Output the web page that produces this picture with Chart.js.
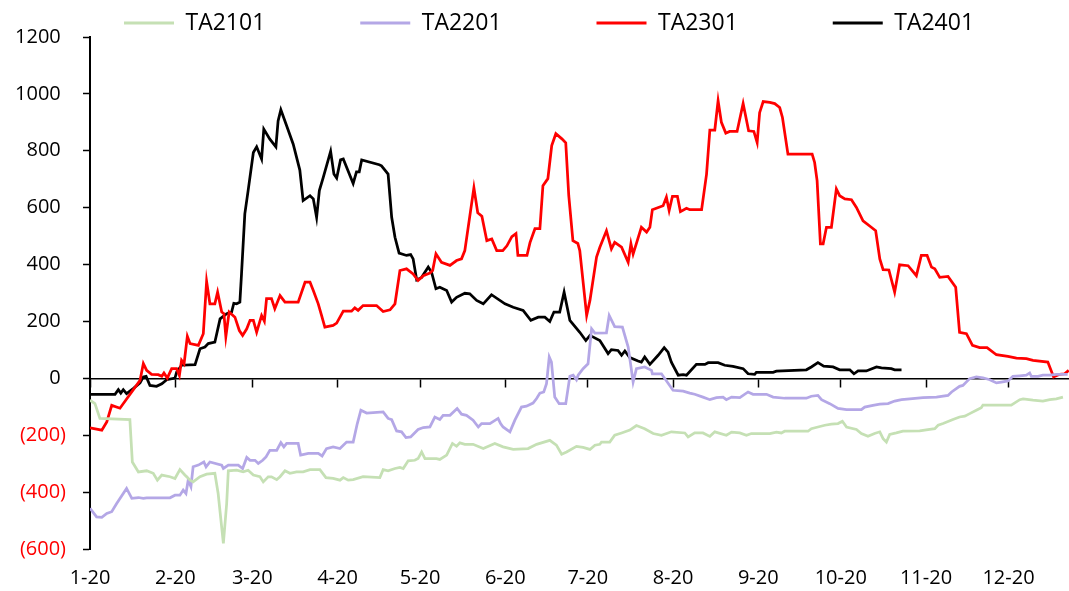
<!DOCTYPE html>
<html>
<head>
<meta charset="utf-8">
<script src="https://cdn.jsdelivr.net/npm/chart.js@4.4.1/dist/chart.umd.min.js"></script>
<style>
html,body{margin:0;padding:0;background:#fff;}
#wrap{width:1069px;height:591px;position:relative;}
</style>
</head>
<body>
<div id="wrap"><canvas id="c" width="1069" height="591"></canvas></div>
<script>
// x values are days counted from Jan 20
const tickDays = [0, 31, 59, 90, 120, 151, 181, 212, 243, 273, 304, 334];
const tickLabels = ['1-20','2-20','3-20','4-20','5-20','6-20','7-20','8-20','9-20','10-20','11-20','12-20'];
const seriesNames = ['TA2101', 'TA2201', 'TA2301', 'TA2401'];

const ta2101Days = [0,1.8,3.6,14.5,15.4,17.6,20.6,23.0,24.5,26.1,29.1,30.9,32.7,34.5,36.4,37.5,40.0,42.4,45.4,46.6,48.5,49.7,50.3,53.3,55.7,57.5,59.4,61.8,63.0,64.8,66.0,67.9,69.1,70.9,72.7,75.1,77.5,80.0,83.6,85.8,88.4,90.9,92.1,93.9,95.7,99.3,105.4,106.6,108.4,110.9,112.7,113.9,115.7,118.1,119.3,120.6,121.8,126.0,127.2,129.7,131.8,133.3,134.5,136.3,139.3,143.0,147.2,150.2,153.9,159.3,162.4,167.2,169.6,171.5,173.3,176.9,179.3,181.8,183.6,185.4,186.0,189.0,190.8,193.3,196.3,198.7,201.7,204.8,207.8,211.4,216.3,217.5,219.9,222.9,225.4,227.2,231.4,233.3,236.3,238.7,240.5,247.2,249.6,251.4,252.6,261.1,262.3,264.7,267.2,269.6,272.0,273.6,275.1,278.7,280.5,282.9,285.3,287.2,288.4,289.6,290.8,293.2,295.6,301.7,304.7,307.2,308.4,310.2,313.8,316.2,318.1,319.9,322.3,324.1,324.7,335.0,338.1,339.3,342.9,346.5,349.0,351.4,353.8];
const ta2101Vals = [-77,-89,-141,-145,-294,-329,-325,-334,-358,-340,-346,-352,-321,-340,-358,-364,-346,-337,-334,-405,-580,-440,-325,-323,-329,-323,-340,-346,-364,-346,-346,-356,-346,-325,-334,-329,-329,-321,-321,-349,-352,-358,-349,-358,-356,-346,-349,-321,-325,-317,-313,-317,-290,-288,-282,-259,-282,-282,-285,-270,-229,-239,-227,-232,-232,-247,-229,-241,-250,-247,-232,-218,-235,-267,-259,-239,-243,-250,-235,-232,-224,-224,-200,-192,-182,-166,-177,-194,-200,-188,-192,-206,-192,-192,-204,-188,-200,-189,-192,-200,-194,-194,-189,-192,-186,-186,-177,-171,-165,-161,-159,-151,-171,-180,-194,-204,-194,-188,-212,-224,-197,-192,-186,-185,-180,-177,-165,-159,-145,-136,-133,-124,-112,-103,-94,-94,-75,-72,-77,-80,-75,-72,-66];

const ta2201Days = [0,2.4,4.3,6.1,7.9,9.7,13.3,15.2,17.6,19.4,20.6,29.1,30.9,32.7,33.9,34.9,35.7,36.7,37.5,39.4,41.4,42.2,43.6,47.9,48.5,50.3,53.9,55.5,57.0,58.2,60.0,61.2,62.8,64.0,65.4,67.9,69.4,70.5,71.5,75.7,76.6,79.4,83.0,84.4,86.0,88.4,90.9,93.3,95.7,97.2,98.5,100.6,106.6,108.4,109.7,111.5,113.3,114.9,116.6,119.3,121.2,123.6,125.4,127.2,128.4,130.9,133.5,135.1,136.9,139.3,141.2,142.4,145.4,148.4,149.3,150.2,152.7,154.5,156.9,158.7,161.1,162.4,163.6,165.0,166.0,167.0,167.8,169.0,170.6,173.0,174.5,175.7,176.9,177.5,179.3,181.1,182.4,183.6,187.8,188.8,190.8,193.6,195.7,197.5,198.7,201.7,204.2,204.5,207.8,212.0,215.7,218.1,219.9,222.9,225.4,227.8,230.2,231.4,233.3,236.3,239.3,241.1,246.0,248.4,252.6,260.5,262.3,264.7,266.0,269.0,272.0,275.1,280.5,281.7,284.7,287.2,290.2,292.6,295.1,298.1,302.9,307.8,312.0,313.3,316.2,317.4,319.9,322.3,324.7,327.2,329.6,331.4,333.8,335.6,338.1,340.5,341.7,342.3,344.7,346.5,349.0,351.4,355.5];
const ta2201Vals = [-457,-487,-489,-475,-469,-440,-387,-422,-419,-422,-420,-420,-411,-411,-393,-405,-358,-381,-311,-305,-294,-311,-294,-305,-317,-305,-305,-317,-278,-288,-288,-299,-288,-276,-253,-253,-226,-241,-229,-229,-270,-264,-264,-273,-247,-241,-247,-224,-224,-159,-112,-122,-118,-141,-145,-185,-188,-208,-206,-180,-173,-171,-136,-145,-130,-130,-106,-126,-130,-147,-171,-159,-159,-141,-159,-171,-188,-147,-101,-98,-87,-71,-52,-48,-19,75,57,-66,-89,-89,7,11,-5,11,34,51,174,159,160,221,182,180,110,-13,34,40,28,16,16,-42,-45,-52,-56,-66,-75,-68,-66,-75,-66,-68,-48,-56,-56,-66,-70,-70,-63,-60,-75,-89,-106,-110,-110,-101,-95,-91,-89,-80,-75,-72,-68,-66,-60,-48,-28,-25,-1,5,2,-5,-16,-13,-9,7,9,11,19,7,7,11,11,14,14];

const ta2301Days = [0,4.3,6.1,7.9,10.9,18.2,19.4,20.6,22.4,24.8,26.1,26.9,28.1,29.7,31.5,32.5,33.3,34.2,35.4,36.4,39.4,41.2,42.4,43.6,45.4,46.4,47.9,48.7,49.4,50.6,52.7,54.3,55.5,57.0,58.2,59.4,60.6,62.4,63.4,64.2,66.0,67.2,69.1,70.9,75.7,78.2,80.0,81.2,83.0,84.2,85.4,88.4,89.7,92.1,95.1,96.3,97.5,99.3,104.2,106.6,109.1,110.9,112.7,115.1,117.5,119.3,121.2,123.6,124.6,125.8,127.8,130.9,133.3,135.1,136.3,139.6,141.0,142.5,144.3,146.1,147.9,150.1,151.6,153.4,154.9,155.6,158.9,160.0,161.8,163.6,164.7,166.5,167.9,169.4,171.6,173.0,174.1,175.6,177.4,178.1,180.6,181.8,184.2,185.4,187.8,189.6,190.8,193.3,195.7,196.7,197.5,200.5,202.4,203.6,204.5,208.4,209.6,210.6,211.8,213.6,214.7,216.9,218.1,222.4,224.2,225.4,227.2,228.4,229.6,231.2,232.6,235.3,237.5,239.5,241.4,242.6,243.5,244.8,247.2,249.0,250.8,251.8,253.8,262.6,263.5,264.4,265.6,266.6,267.8,269.6,271.4,272.6,274.5,276.9,278.7,281.1,284.1,285.7,287.2,288.4,290.5,292.6,294.4,297.5,300.5,302.3,304.4,306.0,307.2,309.0,312.0,314.8,316.2,318.7,320.9,323.5,326.2,329.6,333.8,336.9,340.5,342.9,348.3,350.4,352.6,354.4,355.9];
const ta2301Vals = [-174,-182,-153,-95,-105,-7,52,28,14,13,7,19,1,34,34,10,63,51,148,122,116,157,341,262,262,303,233,227,147,233,215,168,151,174,204,204,162,221,201,280,280,245,291,268,268,338,338,309,262,221,180,186,194,236,236,248,239,256,256,235,241,262,379,385,367,344,361,370,379,438,408,397,414,420,449,670,582,570,484,490,449,449,466,498,509,432,432,477,526,526,677,702,818,860,842,828,642,484,474,449,221,274,426,461,519,455,478,461,408,473,437,531,514,531,593,607,637,590,640,640,586,598,593,593,718,873,873,976,900,862,868,868,966,870,868,829,934,973,970,966,952,917,788,788,759,695,473,473,531,531,666,642,631,628,601,554,531,519,420,382,381,303,399,396,361,432,432,391,385,355,358,320,162,157,116,108,108,83,77,71,69,63,57,5,14,16,28];

const ta2401Days = [0,9.1,10.3,11.2,12.1,13.3,15.7,18.2,19.4,20.4,21.8,24.2,26.1,27.9,30.9,31.5,33.3,38.2,40.0,41.8,43.0,45.4,47.3,49.7,51.5,52.3,53.3,54.5,55.1,56.3,57.5,59.4,60.6,62.4,63.2,65.4,67.6,68.4,69.4,71.5,73.9,76.3,77.5,80.0,81.2,82.4,83.4,84.8,87.5,88.7,89.7,91.1,92.1,95.7,96.9,97.9,98.8,105.2,106.0,108.4,109.7,110.9,112.4,115.1,116.6,117.5,118.8,120.6,123.0,124.2,125.8,127.2,129.7,131.5,133.3,136.3,138.1,140.6,143.0,146.0,150.9,153.9,157.5,160.3,163.0,165.4,167.2,168.7,170.8,172.4,174.5,178.1,180.3,181.8,185.4,188.4,189.6,192.0,193.3,194.5,196.3,199.3,200.5,201.7,203.6,206.6,208.8,210.2,211.4,213.9,215.7,216.9,220.5,223.6,224.8,228.4,230.8,233.8,237.5,239.3,241.7,242.3,248.4,249.6,260.5,262.3,264.7,266.8,270.2,272.6,276.3,277.8,279.3,282.3,286.0,287.8,291.4,292.6,295.1];
const ta2401Vals = [-56,-56,-40,-52,-40,-54,-36,-16,5,7,-25,-28,-19,-5,1,22,46,48,104,110,122,127,209,227,233,264,262,268,367,578,660,794,814,771,876,841,814,905,944,888,823,732,625,642,631,566,660,706,798,718,704,768,771,685,726,726,768,751,747,718,566,496,440,432,435,420,346,355,391,373,315,320,309,268,285,299,297,274,262,294,262,250,239,204,215,215,200,233,233,303,204,162,133,151,133,87,101,98,81,96,73,61,57,75,49,81,108,92,57,11,13,11,49,49,55,55,46,42,34,16,14,21,21,25,30,40,55,43,40,30,30,16,26,26,40,37,34,30,30];

const seriesColors = ['#C5E0B4', '#B4A7E6', '#FF0000', '#000000'];

function pts(days, vals) { return days.map((d, i) => ({ x: d, y: vals[i] })); }

const FONT = "'Open Sans', sans-serif";
const LEG_SIZE = 23;
const setMonthTicks = s => { s.ticks = tickDays.map(v => ({ value: v })); };

// legend geometry: item pitch ~236px, first line at x=124, text centred at y=23
const mctx = document.createElement('canvas').getContext('2d');
mctx.font = LEG_SIZE + 'px ' + FONT;
const legTextW = mctx.measureText(seriesNames[0]).width;
const legBox = 50;
const legItemW = legBox + LEG_SIZE / 2 + legTextW;
const legPad = 236.25 - legItemW;
const legTop = 23 - LEG_SIZE / 2 - legPad;
const legMaxH = 37 - legTop;

const dataSets = [
  [ta2101Days, ta2101Vals],
  [ta2201Days, ta2201Vals],
  [ta2301Days, ta2301Vals],
  [ta2401Days, ta2401Vals]
].map((p, i) => ({
  label: seriesNames[i],
  data: pts(p[0], p[1]),
  borderColor: seriesColors[i],
  backgroundColor: seriesColors[i],
  borderWidth: 2.75,
  pointRadius: 0,
  tension: 0,
  fill: false
}));

new Chart(document.getElementById('c'), {
  type: 'line',
  data: { datasets: dataSets },
  options: {
    responsive: false,
    animation: false,
    devicePixelRatio: 1,
    layout: { padding: { left: 0, right: 0, top: legTop, bottom: 0 } },
    plugins: {
      tooltip: { enabled: false },
      legend: {
        position: 'top',
        align: 'end',
        maxHeight: legMaxH,
        labels: {
          boxWidth: legBox,
          boxHeight: 3,
          padding: legPad,
          color: '#000',
          font: { family: FONT, size: LEG_SIZE },
          generateLabels: chart => chart.data.datasets.map((ds, i) => ({
            text: ds.label,
            fillStyle: ds.borderColor,
            strokeStyle: ds.borderColor,
            lineWidth: 0,
            hidden: false,
            datasetIndex: i
          }))
        }
      }
    },
    scales: {
      x: {
        type: 'linear',
        min: 0,
        max: 356,
        position: { y: 0 },
        grid: { display: true, drawOnChartArea: false, drawTicks: true, tickLength: 8, color: '#000', tickWidth: 1.5 },
        border: { display: true, color: '#000', width: 1.5 },
        ticks: { display: false, autoSkip: false },
        afterBuildTicks: setMonthTicks
      },
      x2: {
        type: 'linear',
        axis: 'x',
        min: 0,
        max: 356,
        position: 'bottom',
        grid: { display: false, drawTicks: false },
        border: { display: false },
        ticks: {
          autoSkip: false, maxRotation: 0, padding: 17, color: '#000',
          font: { family: FONT, size: 20 },
          callback: (v, i) => tickLabels[i]
        },
        afterBuildTicks: setMonthTicks,
        afterFit: s => { s.height = 42; }
      },
      y: {
        type: 'linear',
        min: -600,
        max: 1200,
        position: 'left',
        grid: { drawOnChartArea: false, drawTicks: true, tickLength: 7, color: '#000', tickWidth: 1.5 },
        border: { display: true, color: '#000', width: 2 },
        ticks: {
          stepSize: 200,
          padding: 17,
          font: { family: FONT, size: 20 },
          color: c => (c.tick && c.tick.value < 0) ? '#FF0000' : '#000',
          callback: v => v < 0 ? '(' + (-v) + ')' : v + '\u2008'
        },
        afterFit: s => { s.width = 90; }
      }
    }
  }
});
</script>
</body>
</html>
